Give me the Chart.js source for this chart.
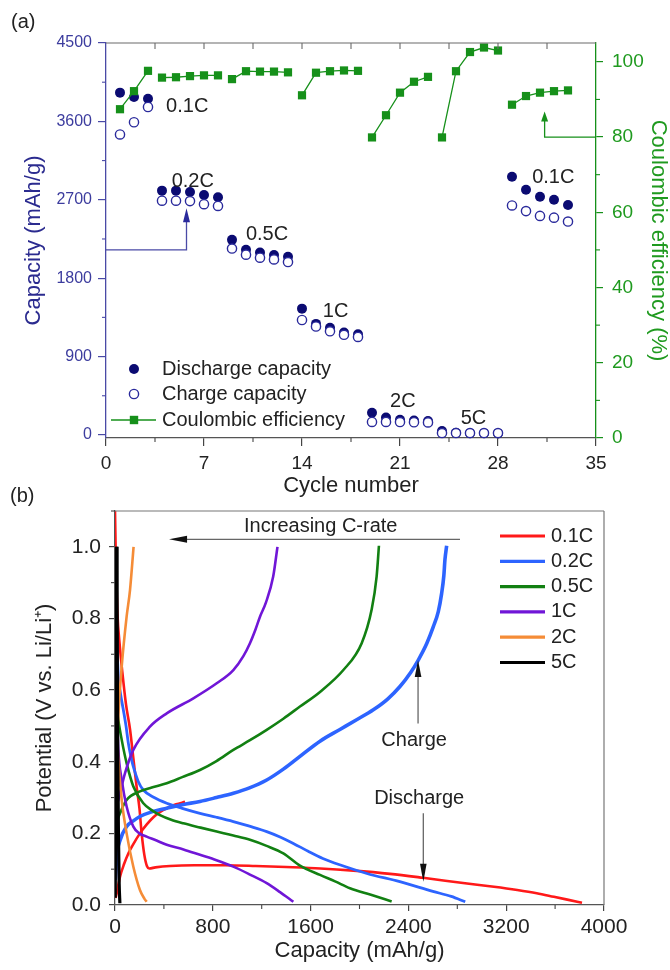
<!DOCTYPE html>
<html><head><meta charset="utf-8">
<script src="https://cdn.jsdelivr.net/npm/chart.js@4/dist/chart.umd.min.js"></script>
<style>
html,body{margin:0;padding:0;background:#fff;width:670px;height:970px;overflow:hidden;}
#wrap{position:relative;width:670px;height:970px;}
canvas{position:absolute;left:0;}
#ca{top:0;} #cb{top:490px;}
.lab{position:absolute;font-family:Arial,"Liberation Sans",sans-serif;font-size:20px;line-height:20px;color:#222;}
</style></head><body>
<div id="wrap">
<canvas id="ca" width="670" height="500"></canvas>
<canvas id="cb" width="670" height="480"></canvas>
<div class="lab" style="left:11px;top:11px">(a)</div>
<div class="lab" style="left:10px;top:485px">(b)</div>
</div>
<script>
// ---------------- Panel (a) data ----------------
const cycles = [1,2,3,4,5,6,7,8,9,10,11,12,13,14,15,16,17,18,19,20,21,22,23,24,25,26,27,28,29,30,31,32,33];
const dischargeCap = [3930,3880,3860,2805,2805,2790,2755,2730,2240,2125,2095,2065,2045,1450,1275,1230,1175,1155,255,200,175,165,160,45,25,20,20,18,2965,2815,2735,2700,2640];
const chargeCap = [3450,3590,3765,2690,2690,2685,2650,2630,2140,2070,2035,2015,1985,1320,1245,1190,1150,1125,150,150,148,146,144,22,22,22,22,22,2635,2570,2515,2495,2450];
const coulombicEff = [87.4,92.2,97.6,95.8,95.9,96.2,96.4,96.4,95.4,97.5,97.4,97.4,97.2,91.1,97.1,97.5,97.7,97.6,79.9,85.8,91.8,94.7,96.0,79.9,97.5,102.6,103.8,103.0,88.6,90.9,91.8,92.2,92.4];
const rateGroupStarts = [1,4,9,14,19,24,29];
const cycleTicks = [0,7,14,21,28,35];
const capTicks = [0,900,1800,2700,3600,4500];
const effTicks = [0,20,40,60,80,100];
const rateLabels = ['0.1C','0.2C','0.5C','1C','2C','5C','0.1C'];

// ---------------- Panel (b) data ----------------
const rateNames = ['0.1C','0.2C','0.5C','1C','2C','5C'];
const c01DisCap = [0,5,12,19,40,60,90,123,150,177,200,218,240,262,280,330,450,650,900,1150,1400,1680,1950,2250,2520,2880,3100,3290,3450,3590,3700,3820];
const c01DisV   = [1.10,1.00,0.90,0.82,0.72,0.65,0.56,0.49,0.41,0.33,0.27,0.20,0.14,0.108,0.102,0.105,0.109,0.111,0.111,0.109,0.106,0.102,0.096,0.087,0.076,0.060,0.051,0.042,0.033,0.023,0.015,0.006];
const c01ChgCap = [5,14,41,75,109,150,204,260,314,370,423,500,573];
const c01ChgV   = [0.02,0.033,0.079,0.115,0.144,0.170,0.200,0.225,0.245,0.260,0.270,0.281,0.288];
const c02DisCap = [3,10,18,27,45,68,90,109,130,150,190,232,320,423,550,695,830,968,1100,1241,1350,1459,1580,1700,1850,2060,2330,2600,2750,2865];
const c02DisV   = [0.97,0.85,0.72,0.64,0.59,0.545,0.50,0.452,0.415,0.386,0.345,0.321,0.300,0.284,0.270,0.256,0.245,0.233,0.220,0.205,0.190,0.172,0.150,0.130,0.111,0.088,0.065,0.038,0.024,0.009];
const c02ChgCap = [3,14,41,95,150,204,300,423,550,695,830,968,1100,1241,1380,1513,1680,1840,1980,2113,2230,2331,2420,2481,2550,2604,2645,2672,2690,2699,2713];
const c02ChgV   = [0.07,0.135,0.18,0.219,0.235,0.247,0.26,0.27,0.28,0.289,0.300,0.312,0.327,0.349,0.380,0.415,0.458,0.490,0.518,0.545,0.575,0.61,0.65,0.684,0.73,0.777,0.82,0.87,0.92,0.964,1.003];
const c05DisCap = [3,15,27,55,95,150,232,300,368,460,559,700,832,968,1104,1240,1377,1513,1677,1800,1922,2100,2263];
const c05DisV   = [0.58,0.55,0.517,0.461,0.396,0.331,0.284,0.265,0.251,0.238,0.228,0.216,0.205,0.194,0.182,0.165,0.144,0.110,0.084,0.066,0.047,0.028,0.010];
const c05ChgCap = [5,14,41,95,204,300,423,550,695,830,968,1104,1241,1377,1513,1677,1868,2018,2099,2140,2159];
const c05ChgV   = [0.17,0.219,0.256,0.293,0.317,0.328,0.34,0.357,0.377,0.402,0.433,0.46,0.489,0.52,0.554,0.595,0.656,0.731,0.824,0.917,1.003];
const c1DisCap = [3,14,27,55,95,150,200,259,340,423,560,695,830,968,1104,1241,1350,1459];
const c1DisV   = [0.60,0.554,0.433,0.349,0.275,0.219,0.200,0.191,0.180,0.168,0.155,0.140,0.125,0.107,0.085,0.061,0.036,0.009];
const c1ChgCap = [25,41,82,150,286,423,641,832,968,1050,1104,1150,1186,1235,1294,1329];
const c1ChgV   = [0.29,0.312,0.368,0.433,0.498,0.535,0.577,0.619,0.656,0.695,0.731,0.77,0.805,0.845,0.917,1.0];
const c2DisCap = [0,5,14,27,55,95,150,204,240,259];
const c2DisV   = [0.62,0.56,0.498,0.405,0.293,0.200,0.107,0.042,0.018,0.009];
const c2ChgCap = [3,10,27,55,95,123,152];
const c2ChgV   = [0.25,0.38,0.526,0.666,0.805,0.88,1.0];
const c5DisCap = [16,18,20,23,28,34,40];
const c5DisV   = [1.0,0.8,0.6,0.4,0.2,0.06,0.005];
const c5ChgCap = [2,5,9,14];
const c5ChgV   = [0.02,0.3,0.7,1.0];
const capTicksB = [0,800,1600,2400,3200,4000];
const potTicks = [0,0.2,0.4,0.6,0.8,1.0];

// ---------------- styling ----------------
const FONT = 'Arial, "Liberation Sans", Helvetica, sans-serif';
Chart.defaults.font.family = FONT;
const NAVY = '#0b0b72', NAVY2 = '#2a2a9c', AXNAVY = '#4a4aa6', TXNAVY = '#3c3c9e';
const GREEN = '#16901a', TXGREEN = '#1f9a1f';
const TXT = '#222';
const lineColors = ['rgb(255,25,25)','rgb(45,100,255)','rgb(18,128,18)','rgb(112,22,215)','rgb(245,140,55)','rgb(0,0,0)'];

function pts(xs, ys){ return xs.map((v,i)=>({x:v, y:ys[i]})); }
function groupOf(c){ let g=0; rateGroupStarts.forEach((s,i)=>{ if(c>=s) g=i; }); return g; }
function setTicks(arr){ return s => { s.ticks = arr.map(v=>({value:v})); }; }
function seg(ctx,x1,y1,x2,y2,color,lw){ ctx.save(); ctx.strokeStyle=color; ctx.lineWidth=lw; ctx.beginPath(); ctx.moveTo(x1,y1); ctx.lineTo(x2,y2); ctx.stroke(); ctx.restore(); }
function arrowHead(ctx,x1,y1,x2,y2,color,len,hw){
  const a=Math.atan2(y2-y1,x2-x1), bx=x2-len*Math.cos(a), by=y2-len*Math.sin(a);
  ctx.save(); ctx.fillStyle=color; ctx.beginPath(); ctx.moveTo(x2,y2);
  ctx.lineTo(bx+hw*Math.sin(a), by-hw*Math.cos(a)); ctx.lineTo(bx-hw*Math.sin(a), by+hw*Math.cos(a));
  ctx.closePath(); ctx.fill(); ctx.restore();
}
function text(ctx,s,x,y,color,size,align){ ctx.save(); ctx.fillStyle=color; ctx.font=size+'px '+FONT; ctx.textAlign=align||'center'; ctx.textBaseline='middle'; ctx.fillText(s,x,y); ctx.restore(); }

// annotation placements (data units), panel (a)
const rateLabelCycle = [5.8,6.2,11.5,16.4,21.2,26.25,31.95];
const rateLabelCap = [3770,2910,2300,1413,379,184,2953];

const pluginA = {
  id:'annotA',
  afterDraw(chart){
    const {ctx, chartArea:ca, scales:{x,y,y1}} = chart;
    seg(ctx, ca.left, ca.top, ca.right, ca.top, '#6a6a6a', 1.2);
    for(let c=3.5;c<35;c+=3.5){ const px=x.getPixelForValue(c); seg(ctx,px,ca.top,px,ca.top+6,'#6a6a6a',1.1); }
    for(let c=3.5;c<35;c+=7){ const px=x.getPixelForValue(c); seg(ctx,px,ca.bottom,px,ca.bottom+4,'#444',1.1); }
    for(let v=450;v<4500;v+=900){ const py=y.getPixelForValue(v); seg(ctx,ca.left-4,py,ca.left,py,AXNAVY,1.1); }
    for(let v=10;v<100;v+=20){ const py=y1.getPixelForValue(v); seg(ctx,ca.right,py,ca.right+4,py,GREEN,1.1); }
    rateLabels.forEach((s,i)=> text(ctx,s,x.getPixelForValue(rateLabelCycle[i]),y.getPixelForValue(rateLabelCap[i]),TXT,20));
    const ax = x.getPixelForValue(5.75), ay = y.getPixelForValue(2125), at = y.getPixelForValue(2604);
    ctx.save(); ctx.strokeStyle=AXNAVY; ctx.lineWidth=1.3; ctx.beginPath();
    ctx.moveTo(ca.left,ay); ctx.lineTo(ax,ay); ctx.lineTo(ax,at+12); ctx.stroke(); ctx.restore();
    arrowHead(ctx,ax,ay,ax,at,NAVY2,14,3.5);
    const gx = x.getPixelForValue(31.33), gy = y1.getPixelForValue(80), gt = y1.getPixelForValue(86.8);
    ctx.save(); ctx.strokeStyle=GREEN; ctx.lineWidth=1.3; ctx.beginPath();
    ctx.moveTo(ca.right,gy); ctx.lineTo(gx,gy); ctx.lineTo(gx,gt+8); ctx.stroke(); ctx.restore();
    arrowHead(ctx,gx,gy,gx,gt,GREEN,10,3.5);
    const lx = ca.left+28, tx = ca.left+56;
    const r1 = ca.bottom-69, r2 = ca.bottom-44, r3 = ca.bottom-18;
    ctx.save(); ctx.fillStyle=NAVY; ctx.beginPath(); ctx.arc(lx,r1,5,0,Math.PI*2); ctx.fill();
    ctx.fillStyle='#fff'; ctx.strokeStyle=NAVY2; ctx.lineWidth=1.4; ctx.beginPath(); ctx.arc(lx,r2,4.6,0,Math.PI*2); ctx.fill(); ctx.stroke();
    ctx.restore();
    seg(ctx, ca.left+5, r3, ca.left+50, r3, GREEN, 1.5);
    ctx.save(); ctx.fillStyle=GREEN; ctx.fillRect(lx-4.2,r3-4.2,8.4,8.4); ctx.restore();
    text(ctx,'Discharge capacity',tx,r1,TXT,20,'left');
    text(ctx,'Charge capacity',tx,r2,TXT,20,'left');
    text(ctx,'Coulombic efficiency',tx,r3,TXT,20,'left');
  }
};

new Chart(document.getElementById('ca'), {
  type:'scatter',
  data:{ datasets:[
    { label:'Coulombic efficiency', data:pts(cycles,coulombicEff), yAxisID:'y1', showLine:true,
      borderColor:GREEN, borderWidth:1.3, pointStyle:'rect', pointRadius:5.8, pointBackgroundColor:GREEN,
      pointBorderWidth:0, order:0, clip:false,
      segment:{ borderColor: c => groupOf(cycles[c.p0DataIndex])===groupOf(cycles[c.p1DataIndex]) ? GREEN : 'rgba(0,0,0,0)' } },
    { label:'Charge capacity', data:pts(cycles,chargeCap), yAxisID:'y', pointStyle:'circle', pointRadius:4.6,
      pointBackgroundColor:'#fff', pointBorderColor:NAVY2, pointBorderWidth:1.4, order:1, clip:false },
    { label:'Discharge capacity', data:pts(cycles,dischargeCap), yAxisID:'y', pointStyle:'circle', pointRadius:5,
      pointBackgroundColor:NAVY, pointBorderColor:NAVY, pointBorderWidth:0, order:2, clip:false }
  ]},
  options:{
    responsive:false, maintainAspectRatio:false, animation:false, devicePixelRatio:1,
    layout:{ padding:{ top:43, left:0, right:0, bottom:0 } },
    plugins:{ legend:{display:false}, tooltip:{enabled:false} },
    scales:{
      x:{ type:'linear', position:'bottom', min:0, max:35, afterBuildTicks:setTicks(cycleTicks), afterFit:s=>{s.height=62;},
        ticks:{ font:{size:19}, color:TXT, padding:6, maxRotation:0, autoSkip:false, callback:v=>String(v) },
        grid:{ drawOnChartArea:false, drawTicks:true, tickLength:8, color:'#444', lineWidth:1.2 },
        border:{ color:'#555', width:1.3 },
        title:{ display:true, text:'Cycle number', font:{size:22, lineHeight:1}, color:TXT, padding:{top:0,bottom:3} } },
      y:{ type:'linear', position:'left', min:-35, max:4500, afterBuildTicks:setTicks(capTicks), afterFit:s=>{s.width=106;},
        ticks:{ font:{size:16}, color:TXNAVY, padding:6, autoSkip:false, callback:v=>String(v) },
        grid:{ drawOnChartArea:false, drawTicks:true, tickLength:8, color:AXNAVY, lineWidth:1.2 },
        border:{ color:AXNAVY, width:1.3 },
        title:{ display:true, text:'Capacity (mAh/g)', font:{size:22, lineHeight:1}, color:'#2b2b8f', padding:{top:23,bottom:0} } },
      y1:{ type:'linear', position:'right', min:0, max:105, afterBuildTicks:setTicks(effTicks), afterFit:s=>{s.width=74;},
        ticks:{ font:{size:19}, color:TXGREEN, padding:9, autoSkip:false, callback:v=>String(v) },
        grid:{ drawOnChartArea:false, drawTicks:true, tickLength:7, color:GREEN, lineWidth:1.2 },
        border:{ color:GREEN, width:1.3 },
        title:{ display:true, text:'Coulombic efficiency (%)', font:{size:22, lineHeight:1}, color:TXGREEN, padding:{top:1,bottom:0} } }
    }
  },
  plugins:[pluginA]
});

// ---------------- Panel (b) ----------------
const curves = [
  [c01DisCap,c01DisV,c01ChgCap,c01ChgV],
  [c02DisCap,c02DisV,c02ChgCap,c02ChgV],
  [c05DisCap,c05DisV,c05ChgCap,c05ChgV],
  [c1DisCap,c1DisV,c1ChgCap,c1ChgV],
  [c2DisCap,c2DisV,c2ChgCap,c2ChgV],
  [c5DisCap,c5DisV,c5ChgCap,c5ChgV]
];
const widthsDis = [2.6,2.8,2.6,2.6,2.6,3.2];
const widthsChg = [2.6,3.6,2.6,2.6,2.6,3.2];
const datasetsB = [];
curves.forEach((cv,i)=>{
  const base = { borderColor:lineColors[i], pointRadius:0, cubicInterpolationMode:'monotone', fill:false, order:10-i };
  datasetsB.push(Object.assign({}, base, { label:rateNames[i]+' discharge', data:pts(cv[0],cv[1]), borderWidth:widthsDis[i] }));
  datasetsB.push(Object.assign({}, base, { label:rateNames[i]+' charge', data:pts(cv[2],cv[3]), borderWidth:widthsChg[i] }));
});

const pluginB = {
  id:'annotB',
  afterDraw(chart){
    const {ctx, chartArea:ca, scales:{x,y}} = chart;
    seg(ctx, ca.left, ca.top, ca.right, ca.top, '#777', 1.2);
    seg(ctx, ca.right, ca.top, ca.right, ca.bottom, '#777', 1.2);
    for(let v=400;v<4000;v+=800){ const px=x.getPixelForValue(v); seg(ctx,px,ca.bottom,px,ca.bottom+4,'#444',1.1); }
    for(let v=0.1;v<1.1;v+=0.2){ const py=y.getPixelForValue(v); seg(ctx,ca.left-4,py,ca.left,py,'#444',1.1); }
    text(ctx,'Increasing C-rate',x.getPixelForValue(1683),y.getPixelForValue(1.057),TXT,20);
    const ix1=x.getPixelForValue(2822), ix2=x.getPixelForValue(442), iy=y.getPixelForValue(1.021);
    seg(ctx,ix1,iy,ix2+14,iy,'#666',1.3); arrowHead(ctx,ix1,iy,ix2,iy,'#111',18,3.5);
    text(ctx,'Charge',x.getPixelForValue(2447),y.getPixelForValue(0.459),TXT,20);
    const cx=x.getPixelForValue(2479), cy1=y.getPixelForValue(0.507), cy2=y.getPixelForValue(0.684);
    seg(ctx,cx,cy1,cx,cy2+14,'#666',1.3); arrowHead(ctx,cx,cy1,cx,cy2,'#111',17,3.3);
    text(ctx,'Discharge',x.getPixelForValue(2488),y.getPixelForValue(0.296),TXT,20);
    const dx=x.getPixelForValue(2522), dy1=y.getPixelForValue(0.256), dy2=y.getPixelForValue(0.065);
    seg(ctx,dx,dy1,dx,dy2-14,'#666',1.3); arrowHead(ctx,dx,dy1,dx,dy2,'#111',18,3.3);
    rateNames.forEach((s,i)=>{
      const ry = ca.top + 25 + i*25.3;
      seg(ctx, ca.right-104, ry, ca.right-59, ry, lineColors[i], 3.2);
      text(ctx, s, ca.right-53, ry, TXT, 20, 'left');
    });
  }
};

new Chart(document.getElementById('cb'), {
  type:'line',
  data:{ datasets:datasetsB },
  options:{
    responsive:false, maintainAspectRatio:false, animation:false, devicePixelRatio:1,
    layout:{ padding:{ top:21, left:0, right:66, bottom:0 } },
    plugins:{ legend:{display:false}, tooltip:{enabled:false} },
    scales:{
      x:{ type:'linear', position:'bottom', min:0, max:4000, afterBuildTicks:setTicks(capTicksB), afterFit:s=>{s.height=65;},
        ticks:{ font:{size:21}, color:TXT, padding:4, maxRotation:0, autoSkip:false, callback:v=>String(v) },
        grid:{ drawOnChartArea:false, drawTicks:true, tickLength:6, color:'#444', lineWidth:1.2 },
        border:{ color:'#555', width:1.3 },
        title:{ display:true, text:'Capacity (mAh/g)', font:{size:22, lineHeight:1}, color:TXT, padding:{top:0,bottom:8} } },
      y:{ type:'linear', position:'left', min:0, max:1.1, afterBuildTicks:setTicks(potTicks), afterFit:s=>{s.width=115;},
        ticks:{ font:{size:21}, color:TXT, padding:8, autoSkip:false, callback:v=>Number(v).toFixed(1) },
        grid:{ drawOnChartArea:false, drawTicks:true, tickLength:6, color:'#444', lineWidth:1.2 },
        border:{ color:'#555', width:1.3 },
        title:{ display:true, text:'Potential (V vs. Li/Li\u207A)', font:{size:22, lineHeight:1}, color:TXT, padding:{top:34,bottom:0} } }
    }
  },
  plugins:[pluginB]
});
</script>
</body></html>
